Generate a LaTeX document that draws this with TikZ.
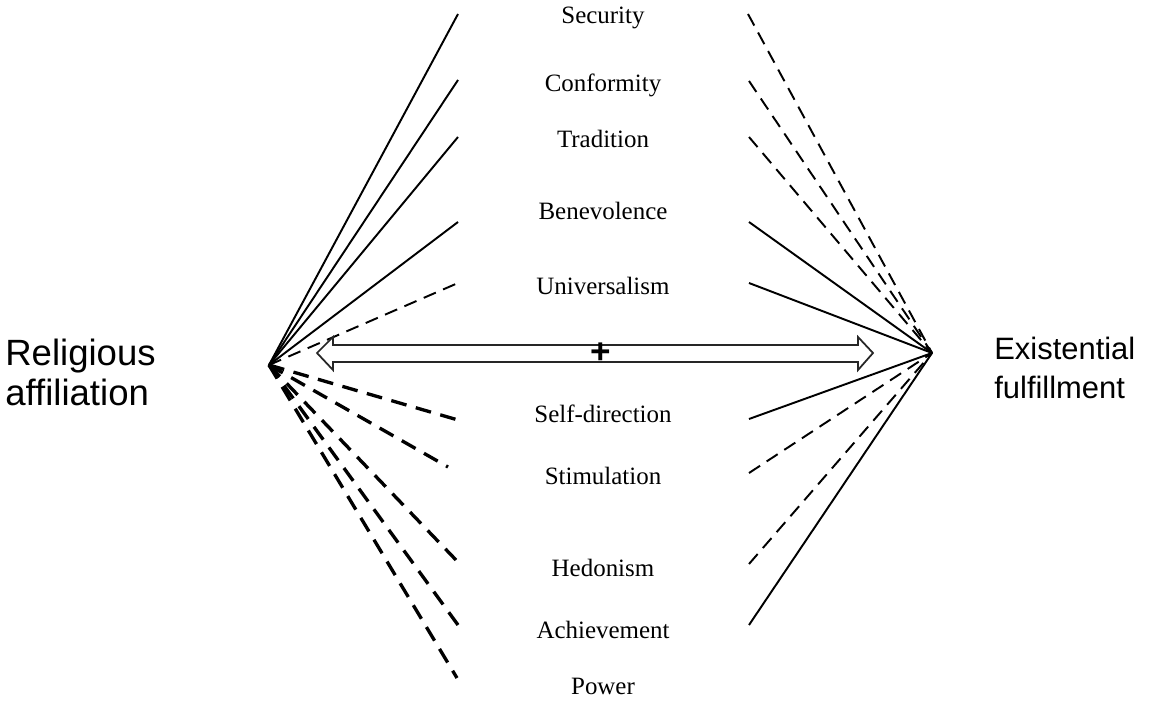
\documentclass[tikz,border=0pt]{standalone}
\usepackage{fontspec}
\setmainfont{Liberation Serif}
\newfontfamily\sidefont{Liberation Sans}

\tikzset{
  valuelabel/.style={anchor=base,inner sep=0pt,font=\fontsize{14.2}{16}\selectfont},
  sidelabel/.style={anchor=west,align=left,inner sep=0pt,font=\sidefont\fontsize{20.8}{22.7}\selectfont},
  solidline/.style={line width=1.1pt},
  thindash/.style={line width=1.1pt,dash pattern=on 7.5pt off 4.5pt},
  thickdash/.style={line width=1.9pt,dash pattern=on 9pt off 5.5pt},
  bigarrow/.style={line width=1pt,draw=black!85,fill=white}
}

\begin{document}
\begin{tikzpicture}[x=0.02cm,y=-0.02cm]
  \useasboundingbox (0,0) rectangle (1150,702);

  \node[sidelabel] (rel) at (5,372) {Religious\\affiliation};
  \node[sidelabel,font=\sidefont\fontsize{17.6}{22.7}\selectfont] (exi) at (994,368) {Existential\\fulfillment};

  \coordinate (L) at (269,365);
  \coordinate (R) at (932,353);

  % values
  \node[valuelabel] (sec) at (603,24)  {Security};
  \node[valuelabel] (con) at (603,92)  {Conformity};
  \node[valuelabel] (tra) at (603,148) {Tradition};
  \node[valuelabel] (ben) at (603,220) {Benevolence};
  \node[valuelabel] (uni) at (603,295) {Universalism};
  \node[valuelabel] (sdi) at (603,423) {Self-direction};
  \node[valuelabel] (sti) at (603,485) {Stimulation};
  \node[valuelabel] (hed) at (603,577) {Hedonism};
  \node[valuelabel] (ach) at (603,638) {Achievement};
  \node[valuelabel] (pow) at (603,694) {Power};

  %%%%%%%%%%%%%%%%%%%%% religious affiliation
  \coordinate (lsec) at (458,14);
  \coordinate (lcon) at (458,80);
  \coordinate (ltra) at (458,137);
  \coordinate (lben) at (458,222);
  \coordinate (luni) at (458,283);
  \coordinate (lsdi) at (458,420);
  \coordinate (lsti) at (448,467);
  \coordinate (lhed) at (456,560);
  \coordinate (lach) at (458,625);
  \coordinate (lpow) at (457,678);
  \draw[solidline] (L) -- (lsec);
  \draw[solidline] (L) -- (lcon);
  \draw[solidline] (L) -- (ltra);
  \draw[solidline] (L) -- (lben);
  \draw[thindash]  (L) -- (luni);
  \draw[thickdash] (L) -- (lsdi);
  \draw[thickdash] (L) -- (lsti);
  \draw[thickdash] (L) -- (lhed);
  \draw[thickdash] (L) -- (lach);
  \draw[thickdash] (L) -- (lpow);

  %%%%%%%%%%%%%%%%%%%%% existential fulfillment
  \coordinate (rsec) at (748,14);
  \coordinate (rcon) at (749,81);
  \coordinate (rtra) at (749,137);
  \coordinate (rben) at (749,222);
  \coordinate (runi) at (749,283);
  \coordinate (rsdi) at (749,419);
  \coordinate (rsti) at (749,473);
  \coordinate (rhed) at (749,564);
  \coordinate (rach) at (749,625);
  \draw[thindash]  (rsec) -- (R);
  \draw[thindash]  (rcon) -- (R);
  \draw[thindash]  (rtra) -- (R);
  \draw[solidline] (rben) -- (R);
  \draw[solidline] (runi) -- (R);
  \draw[solidline] (rsdi) -- (R);
  \draw[thindash]  (rsti) -- (R);
  \draw[thindash]  (rhed) -- (R);
  \draw[solidline] (rach) -- (R);

  %%%%%%%%%%%%%%%%%%%%% double arrow
  \draw[bigarrow] (317,353) -- (333,337) -- (333,345) -- (858,345) -- (858,337)
    -- (873,353) -- (858,370) -- (858,362) -- (333,362) -- (333,370) -- cycle;
  \node[inner sep=0pt,font=\sidefont\bfseries\fontsize{20}{22}\selectfont] (plus) at (601,353) {+};
\end{tikzpicture}
\end{document}
